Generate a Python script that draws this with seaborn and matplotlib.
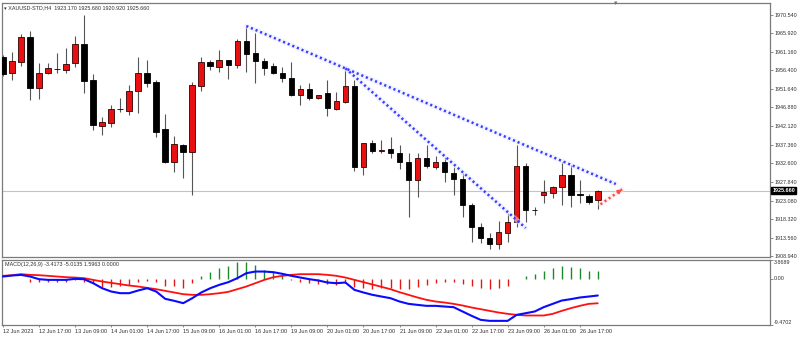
import numpy as np
import pandas as pd
import matplotlib
matplotlib.use("Agg")
import matplotlib.pyplot as plt
import matplotlib.transforms as mtransforms
import seaborn as sns

# ---------------- data ----------------
opens = [1959.85, 1955.60, 1958.57, 1964.96, 1951.77, 1955.60, 1956.75, 1956.45, 1958.16, 1963.01,
         1953.89, 1942.22, 1942.83, 1946.51, 1946.05, 1951.01, 1955.76, 1953.31, 1941.37, 1933.02,
         1937.29, 1935.42, 1952.44, 1958.57, 1957.14, 1959.00, 1957.73, 1963.86, 1960.71, 1958.82,
         1957.47, 1955.76, 1954.33, 1950.06, 1951.59, 1949.22, 1950.49, 1946.48, 1948.35, 1952.36,
         1931.59, 1937.72, 1935.68, 1936.19, 1935.16, 1933.02, 1928.34, 1933.89, 1931.74, 1932.87,
         1930.21, 1928.52, 1921.96, 1916.26, 1913.60, 1911.99, 1914.88, 1917.69, 1932.00, 1920.75,
         1924.43, 1925.10, 1926.63, 1929.62, 1924.75, 1924.25, 1923.17]
highs = [1960.28, 1961.12, 1965.57, 1966.49, 1958.31, 1958.31, 1960.71, 1961.99, 1965.13, 1970.50,
         1955.35, 1944.36, 1947.51, 1949.22, 1952.62, 1959.85, 1959.00, 1953.89, 1945.13, 1939.58,
         1937.54, 1953.46, 1959.85, 1959.00, 1961.56, 1959.10, 1964.29, 1967.51, 1965.82, 1959.44,
         1958.16, 1957.14, 1958.57, 1952.62, 1953.05, 1950.19, 1953.89, 1950.90, 1956.45, 1953.89,
         1937.80, 1938.56, 1938.56, 1939.25, 1937.29, 1935.32, 1935.16, 1937.29, 1934.55, 1934.30,
         1931.74, 1930.05, 1922.39, 1917.28, 1914.72, 1917.94, 1919.83, 1937.29, 1932.76, 1921.52,
         1928.34, 1926.81, 1933.02, 1932.18, 1928.34, 1924.77, 1925.68]
lows = [1954.91, 1953.89, 1957.55, 1948.78, 1949.04, 1955.43, 1955.60, 1955.60, 1957.29, 1950.49,
        1941.12, 1939.84, 1941.81, 1945.79, 1944.95, 1945.38, 1952.10, 1939.41, 1932.76, 1930.46,
        1928.78, 1924.51, 1951.16, 1956.45, 1956.01, 1954.15, 1956.88, 1956.01, 1953.05, 1955.17,
        1955.43, 1953.46, 1949.88, 1947.51, 1948.78, 1949.09, 1944.69, 1946.23, 1947.94, 1930.72,
        1929.62, 1935.16, 1935.16, 1933.89, 1931.08, 1918.97, 1924.08, 1931.33, 1931.08, 1927.76,
        1924.51, 1918.97, 1912.58, 1912.17, 1910.64, 1910.64, 1912.58, 1916.41, 1917.69, 1919.40,
        1922.39, 1923.67, 1921.96, 1921.37, 1922.39, 1922.21, 1920.92]
closes = [1955.43, 1958.75, 1964.96, 1951.77, 1955.60, 1957.04, 1956.65, 1957.98, 1963.01, 1953.71,
          1942.40, 1943.24, 1946.56, 1946.36, 1951.08, 1955.76, 1953.20, 1940.68, 1933.02, 1937.46,
          1935.57, 1952.62, 1958.42, 1957.55, 1959.00, 1957.73, 1963.93, 1960.61, 1958.82, 1956.88,
          1955.60, 1954.33, 1950.06, 1951.59, 1949.22, 1950.06, 1946.66, 1948.53, 1952.36, 1931.59,
          1937.72, 1935.83, 1936.01, 1935.16, 1933.02, 1928.34, 1933.89, 1931.92, 1932.87, 1930.31,
          1928.52, 1921.96, 1916.26, 1913.45, 1911.99, 1914.98, 1917.69, 1932.00, 1920.68, 1920.62,
          1925.20, 1926.63, 1929.62, 1924.51, 1924.62, 1922.80, 1925.66]

macd_main = [0.48, 0.68, 0.82, 0.48, -0.07, -0.21, -0.21, -0.21, 0.00, -0.07,
             -0.89, -1.92, -2.60, -2.94, -2.94, -2.39, -1.92, -2.60, -4.10, -4.51,
             -4.99, -3.97, -2.80, -1.92, -1.23, -0.68, 0.14, 1.16, 1.50, 1.50,
             1.37, 1.03, 0.62, 0.27, -0.07, -0.34, -0.75, -0.89, -0.75, -2.26,
             -2.80, -3.28, -3.63, -3.97, -4.65, -5.13, -5.34, -5.54, -5.54, -5.68,
             -5.81, -6.70, -7.59, -8.41, -8.62, -8.62, -8.62, -7.39, -7.05, -6.70,
             -5.81, -5.13, -4.45, -4.17, -3.83, -3.63, -3.4173]
macd_signal = [0.62, 0.75, 0.96, 0.82, 0.75, 0.62, 0.48, 0.34, 0.27, 0.14,
               -0.21, -0.55, -0.82, -1.09, -1.37, -1.57, -1.85, -2.12, -2.46, -2.80,
               -3.15, -3.28, -3.28, -3.15, -2.94, -2.67, -2.12, -1.57, -0.89, -0.21,
               0.34, 0.62, 0.82, 0.96, 0.96, 0.96, 0.82, 0.62, 0.27, -0.21,
               -0.68, -1.16, -1.64, -2.12, -2.74, -3.28, -3.83, -4.31, -4.65, -4.86,
               -5.13, -5.47, -5.88, -6.22, -6.57, -6.91, -7.18, -7.39, -7.52, -7.52,
               -7.52, -7.18, -6.57, -6.02, -5.54, -5.13, -5.0135]
macd_hist = [-0.05, -0.10, -0.10, -0.68, -0.68, -0.68, -0.68, -0.55, -0.21, -0.55,
             -0.89, -1.71, -1.57, -1.44, -1.23, -0.68, -0.34, -0.55, -1.37, -1.37,
             -1.92, -0.75, 0.62, 1.50, 2.19, 2.74, 3.45, 3.55, 2.87, 1.85,
             1.50, 0.82, -0.21, -0.68, -0.89, -1.03, -1.09, -1.23, -0.89, -1.57,
             -1.78, -2.05, -1.92, -1.92, -2.12, -2.12, -1.57, -1.23, -0.75, -0.68,
             -0.55, -1.09, -1.37, -1.78, -2.12, -1.78, -1.44, 0.05, 0.62, 1.03,
             1.64, 2.19, 2.67, 2.39, 2.19, 1.71, 1.5963]

date_labels = ["12 Jun 2023", "12 Jun 17:00", "13 Jun 09:00", "14 Jun 01:00", "14 Jun 17:00",
               "15 Jun 09:00", "16 Jun 01:00", "16 Jun 17:00", "19 Jun 09:00", "20 Jun 01:00",
               "20 Jun 17:00", "21 Jun 09:00", "22 Jun 01:00", "22 Jun 17:00", "23 Jun 09:00",
               "26 Jun 01:00", "26 Jun 17:00"]
price_ticks = [1970.540, 1965.920, 1961.160, 1956.400, 1951.640, 1946.880, 1942.120,
               1937.360, 1932.600, 1927.840, 1923.080, 1918.320, 1913.560, 1908.940]
last_price = 1925.660

# trend-line anchor points (bar index, price)
trend_upper_x = [27, 68]
trend_upper_y = [1967.69, 1927.32]
trend_lower_x = [38, 58]
trend_lower_y = [1956.88, 1916.08]
arrow_x = [66.3, 68.7]
arrow_y = [1922.13, 1925.97]

# ---------------- style ----------------
sns.set_theme(style="white")
plt.rcParams["font.family"] = ["Liberation Sans", "DejaVu Sans"]
TXT = "#303030"
FRAME = "#7a7a7a"

W, H = 800, 338
fig = plt.figure(figsize=(W / 100, H / 100), dpi=100)
fig.patch.set_facecolor("white")

def px_axes(left, top, right, bottom):
    return fig.add_axes([left / W, 1 - bottom / H, (right - left) / W, (bottom - top) / H])

ax = px_axes(2, 3, 770, 257)
ax2 = px_axes(2, 260, 770, 325)

n = len(opens)
x = np.arange(n)
o = np.array(opens); c = np.array(closes); h = np.array(highs); l = np.array(lows)
up = c >= o
body_col = np.where(up, "#e81010", "#000000")
edge_col = np.where(up, "#300000", "#000000")
bottoms = np.minimum(o, c)
heights = np.maximum(np.abs(c - o), 0.08)

xmin, xmax = -1 / 9, 767 / 9 - 1 / 9

# ---- main price panel ----
ax.axhline(last_price, color="#c4c4c4", lw=0.8, zorder=1)
ax.vlines(x, l, h, color="#555555", lw=0.8, zorder=2)
ax.bar(x, heights, bottom=bottoms, width=0.62, color=body_col, edgecolor=edge_col,
       linewidth=0.6, zorder=3)

# trend lines (halo + dotted)
for tx, ty in [(trend_upper_x, trend_upper_y), (trend_lower_x, trend_lower_y)]:
    ax.plot(tx, ty, color="#e6ebff", lw=3.6, alpha=0.55, zorder=4, solid_capstyle="round")
    ax.plot(tx, ty, color="#3c3cff", lw=1.8, linestyle=(0, (0.85, 1.15)), zorder=5)
ax.plot(arrow_x, arrow_y, color="#ffe4e4", lw=3.4, alpha=0.55, zorder=4)
ax.plot(arrow_x, arrow_y, color="#ff4a4a", lw=1.8, linestyle=(0, (0.85, 1.15)), zorder=5)
ax.annotate("", xy=(arrow_x[1], arrow_y[1]),
            xytext=(arrow_x[1] - 0.5, arrow_y[1] - 0.8),
            arrowprops=dict(arrowstyle="-|>", color="#ff4a4a", lw=0.8, mutation_scale=7),
            zorder=6)

ax.set_xlim(xmin, xmax)
ax.set_ylim(1908.67, 1973.57)
ax.set_xticks([])
ax.yaxis.tick_right()
ax.set_yticks(price_ticks)
ax.set_yticklabels([f"{v:.3f}" for v in price_ticks])
ax.tick_params(axis="y", right=True, length=2.0, width=0.6, color=FRAME, pad=1.2,
               labelsize=3.9, labelcolor=TXT)
for s in ax.spines.values():
    s.set_color(FRAME); s.set_linewidth(0.9)

# current price tag
ax.annotate(f"{last_price:.3f}", xy=(1.0, last_price),
            xycoords=mtransforms.blended_transform_factory(ax.transAxes, ax.transData),
            xytext=(1.6, 0), textcoords="offset points", ha="left", va="center",
            fontsize=3.9, color="white", fontweight="bold",
            bbox=dict(boxstyle="square,pad=0.25", fc="#000000", ec="#000000"))

# ---- MACD panel ----
df = pd.DataFrame({"bar": x, "main": macd_main, "signal": macd_signal})
hist = np.array(macd_hist)
hcol = np.where(hist >= 0, "#1e8a2a", "#e01818")
ax2.vlines(x, 0, hist, colors=hcol, lw=1.0, zorder=2)
sns.lineplot(data=df, x="bar", y="signal", color="#ff1010", lw=1.3, ax=ax2, zorder=3)
sns.lineplot(data=df, x="bar", y="main", color="#0a0aff", lw=1.5, ax=ax2, zorder=4)
ax2.set_xlim(xmin, xmax)
ax2.set_ylim(-9.4702, 3.8689)
ax2.set_xlabel(""); ax2.set_ylabel("")
ax2.yaxis.tick_right()
ax2.set_yticks([3.8689, 0.0, -9.4702])
ax2.set_yticklabels([])
ax2.tick_params(axis="y", right=True, length=2.0, width=0.6, color=FRAME)
tr = mtransforms.blended_transform_factory(ax2.transAxes, ax2.transData)
for val, lab, va in [(3.8689, "3.8689", "top"), (0.0, "0.00", "center"), (-9.4702, "-9.4702", "bottom")]:
    ax2.text(1.0 + 3.5 / 768, val, lab, transform=tr, ha="left", va=va, fontsize=3.9, color=TXT)
ax2.set_xticks(np.arange(0, 4 * len(date_labels), 4))
ax2.set_xticklabels(date_labels, ha="left")
ax2.tick_params(axis="x", bottom=True, length=1.5, width=0.6, color=FRAME, pad=1.5,
                labelsize=4.0, labelcolor=TXT)
for s in ax2.spines.values():
    s.set_color(FRAME); s.set_linewidth(0.9)

# ---- header texts ----
fig.text(3.5 / W, 1 - 7.5 / H, "\u25BE XAUUSD-STD,H4  1923.170 1925.680 1920.920 1925.660",
         fontsize=3.9, color=TXT, ha="left", va="center")
ax2.text(3 / 768, 1 - 4.5 / 65, "MACD(12,26,9) -3.4173 -5.0135 1.5963 0.0000",
         transform=ax2.transAxes, fontsize=3.9, color=TXT, ha="left", va="center")
fig.text(616 / W, 1 - 3.5 / H, "\u25BC", fontsize=4, color="#707070", ha="center", va="center")

fig.savefig("out.png", dpi=100, facecolor="white")
